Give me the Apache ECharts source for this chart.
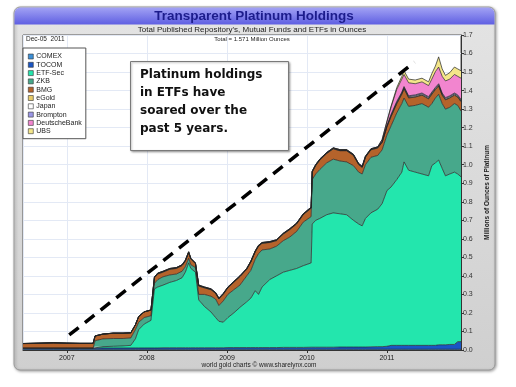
<!DOCTYPE html>
<html>
<head>
<meta charset="utf-8">
<script src="https://cdn.jsdelivr.net/npm/echarts@6/dist/echarts.min.js"></script>
<style>
html,body{margin:0;padding:0;background:#fff;}
#c{width:516px;height:387px;}
</style>
</head>
<body>
<div id="c"></div>
<script>
const dates = ['2006-06-15','2006-09-01','2006-11-01','2007-01-01','2007-03-01','2007-05-01','2007-05-10','2007-06-15','2007-08-01','2007-09-15',
'2007-10-20','2007-11-10','2007-11-25','2007-12-20','2008-01-20','2008-02-05','2008-02-20','2008-03-15','2008-04-15','2008-05-15',
'2008-06-10','2008-06-25','2008-07-10','2008-07-20','2008-08-10','2008-08-25','2008-09-20','2008-10-20','2008-11-10','2008-11-25',
'2008-12-15','2009-01-05','2009-02-01','2009-03-01','2009-04-01','2009-04-20','2009-05-10','2009-05-25','2009-06-10','2009-07-15',
'2009-08-15','2009-09-15','2009-10-15','2009-11-15','2009-12-15','2010-01-20','2010-01-25','2010-02-10','2010-03-01','2010-04-01',
'2010-05-01','2010-06-01','2010-07-01','2010-08-01','2010-08-25','2010-09-10','2010-09-25','2010-10-20','2010-11-20','2010-12-10',
'2011-01-01','2011-01-20','2011-02-15','2011-03-10','2011-03-20','2011-04-10','2011-05-10','2011-06-10','2011-07-10','2011-07-25',
'2011-08-10','2011-08-25','2011-09-10','2011-09-25','2011-10-15','2011-11-05','2011-11-20','2011-12-05'];

const comex = [.004,.004,.004,.004,.004,.004,.004,.004,.004,.004,.004,.004,.004,.004,.004,.004,.004,.004,.004,.004,
.004,.004,.004,.004,.004,.004,.004,.004,.004,.004,.004,.004,.004,.004,.004,.004,.004,.004,.004,.004,
.004,.004,.004,.004,.004,.004,.004,.004,.004,.004,.004,.004,.004,.004,.004,.004,.004,.004,.004,.004,
.004,.004,.004,.004,.004,.004,.004,.004,.004,.004,.004,.004,.004,.004,.004,.004,.004,.004];
const tocom = [.006,.006,.006,.006,.006,.006,.007,.007,.007,.007,.007,.007,.007,.007,.007,.007,.007,.008,.008,.008,
.008,.008,.008,.008,.008,.008,.008,.008,.008,.008,.008,.009,.009,.009,.009,.009,.009,.009,.009,.009,
.009,.010,.010,.010,.010,.011,.011,.011,.011,.011,.011,.012,.012,.012,.012,.012,.012,.013,.014,.014,
.016,.021,.021,.021,.021,.021,.021,.021,.021,.021,.021,.024,.024,.024,.026,.026,.041,.041];
const etfSec = [0,0,0,0,0,0,.007,.007,.009,.011,.014,.049,.099,.129,.149,.319,.329,.338,.353,.363,
.378,.408,.458,.428,.408,.258,.223,.193,.163,.143,.138,.162,.187,.217,.247,.267,.307,.287,.327,.367,
.387,.406,.416,.426,.441,.455,.665,.685,.695,.715,.725,.719,.714,.684,.664,.654,.694,.723,.742,.772,
.840,.855,.895,.935,.990,.945,.935,.925,.915,.970,.985,.997,.952,.912,.920,.930,.905,.890];
const zkb = [0,0,0,0,0,0,.032,.042,.042,.040,.040,.050,.040,.035,.025,.030,.040,.045,.040,.035,
.035,.030,.025,.020,.025,.030,.065,.085,.100,.085,.115,.125,.125,.120,.140,.150,.170,.220,.200,.165,
.160,.170,.180,.200,.235,.250,.240,.250,.265,.280,.290,.285,.285,.295,.280,.280,.290,.300,.290,.290,
.300,.330,.360,.370,.345,.345,.360,.380,.370,.335,.350,.355,.350,.360,.360,.370,.370,.355];
const bmg = [.024,.026,.028,.026,.025,.025,.025,.025,.028,.028,.027,.025,.030,.030,.030,.030,.030,.025,.030,.030,
.030,.030,.030,.030,.020,.045,.035,.035,.030,.035,.035,.035,.040,.045,.035,.045,.040,.040,.035,.035,
.030,.035,.040,.040,.040,.045,.040,.045,.050,.050,.055,.055,.060,.055,.040,.035,.040,.040,.040,.040,
.045,.050,.050,.050,.050,.045,.045,.045,.045,.050,.045,.045,.045,.050,.050,.045,.045,.050];
const eGold = [.001,.001,.001,.001,.001,.001,.001,.001,.001,.001,.001,.001,.001,.001,.001,.002,.002,.002,.002,.002,
.002,.002,.002,.002,.002,.002,.002,.002,.002,.002,.002,.002,.002,.002,.002,.002,.002,.002,.002,.002,
.002,.002,.002,.002,.002,.002,.002,.002,.002,.002,.002,.002,.002,.002,.002,.002,.002,.002,.002,.002,
.002,.002,.002,.002,.002,.002,.002,.002,.002,.002,.002,.002,.002,.002,.002,.002,.002,.002];
const japan = [0,0,0,0,0,0,0,0,0,0,0,0,0,0,0,0,0,0,0,0,
0,0,0,0,0,0,0,0,0,0,0,0,0,0,0,0,0,0,0,0,
0,0,0,0,0,0,0,0,0,0,0,0,0,0,0,0,0,0,0,0,
0,.005,.005,.005,.005,.005,.005,.005,.005,.005,.005,.005,.005,.005,.005,.005,.005,.005];
const brompton = [0,0,0,0,0,0,0,0,0,0,0,0,0,0,0,.003,.003,.003,.003,.003,
.003,.003,.003,.003,.003,.003,.003,.003,.003,.003,.003,.003,.003,.003,.003,.003,.003,.003,.003,.003,
.003,.003,.003,.003,.003,.004,.004,.004,.004,.004,.004,.004,.004,.004,.004,.004,.004,.004,.004,.004,
.004,.005,.005,.005,.005,.005,.005,.005,.005,.005,.005,.005,.005,.005,.005,.005,.005,.005];
const deutscheBank = [0,0,0,0,0,0,0,0,0,0,0,0,0,0,0,0,0,0,0,0,
0,0,0,0,0,0,0,0,0,0,0,0,0,0,0,0,0,0,0,0,
0,0,0,0,0,0,0,0,0,0,0,0,0,0,0,0,0,0,0,.010,
.020,.040,.065,.070,.065,.070,.060,.060,.060,.070,.085,.090,.090,.090,.090,.100,.100,.115];
const ubs = [0,0,0,0,0,0,0,0,0,0,0,0,0,0,0,0,0,0,0,0,
0,0,0,0,0,0,0,0,0,0,0,0,0,0,0,0,0,0,0,0,
0,0,0,0,0,0,0,0,0,0,0,0,0,0,0,0,0,0,0,0,
.005,.005,.010,.015,.020,.020,.020,.020,.020,.030,.030,.055,.040,.030,.035,.040,.040,.040];

const seriesNames = ['COMEX','TOCOM','ETF-Sec','ZKB','BMG','eGold','Japan','Brompton','DeutscheBank','UBS'];
const seriesValues = [comex,tocom,etfSec,zkb,bmg,eGold,japan,brompton,deutscheBank,ubs];
const seriesColors = ['#3d8fd6','#1a56c4','#23e6ad','#47a88b','#b5632b','#e8cc6a','#ffffff','#9a96e6','#f285cf','#f4e68a'];
const yTicks = {min:0, max:1.7, interval:0.1};
const xRange = {min:'2006-06-15', max:'2011-12-05'};
const arrowFrom = ['2007-01-12', 0.081];
const arrowTo = ['2011-05-07', 1.554];

const chart = echarts.init(document.getElementById('c'), null, {renderer:'canvas'});

const series = seriesNames.map((name, i) => {
  const s = {
    name: name,
    type: 'line',
    stack: 'total',
    showSymbol: false,
    symbol: 'none',
    data: dates.map((d, j) => [d, seriesValues[i][j]]),
    lineStyle: {width: 0.7, color: '#222'},
    itemStyle: {color: seriesColors[i], borderColor:'#333', borderWidth:0.6},
    areaStyle: {color: seriesColors[i], opacity: 1},
    emphasis: {disabled: true},
    z: 2
  };
  if (i === seriesNames.length - 1) {
    s.markLine = {
      silent: true,
      symbol: ['none', 'arrow'],
      symbolSize: [0, 14],
      label: {show: false},
      lineStyle: {color: '#000', width: 3.5, type: [12, 8], cap: 'butt'},
      data: [[{coord: arrowFrom}, {coord: arrowTo}]],
      z: 10
    };
  }
  return s;
});

const option = {
  animation: false,
  backgroundColor: '#ffffff',
  textStyle: {fontFamily: 'Liberation Sans, Arial, sans-serif'},
  graphic: [
    {type:'rect', z:-10, shape:{x:14, y:7, width:481, height:363, r:6},
     style:{fill:{type:'linear',x:0,y:0,x2:0,y2:1,colorStops:[{offset:0,color:'#e4e4e4'},{offset:1,color:'#cfcfcf'}]},
            stroke:'#9a9a9a', lineWidth:1, shadowBlur:3, shadowColor:'rgba(0,0,0,0.35)', shadowOffsetX:1, shadowOffsetY:1}},
    {type:'rect', z:-9, shape:{x:14.5, y:7.5, width:480, height:17, r:[6,6,0,0]},
     style:{fill:{type:'linear',x:0,y:0,x2:0,y2:1,colorStops:[{offset:0,color:'#a2a2f4'},{offset:1,color:'#5f5fe2'}]}}},
    {type:'text', z:5, style:{text:'Transparent Platinum Holdings', x:254, y:16, textAlign:'center', textVerticalAlign:'middle',
      font:'bold 13.5px "Liberation Sans", Arial, sans-serif', fill:'#1c1c8c'}},
    {type:'text', z:5, style:{text:"Total Published Repository's, Mutual Funds and ETFs in Ounces", x:252, y:29.5, textAlign:'center', textVerticalAlign:'middle',
      font:'8px "Liberation Sans", Arial, sans-serif', fill:'#222'}},
    {type:'text', z:20, style:{text:'Dec-05  2011', x:26, y:39.5, textAlign:'left', textVerticalAlign:'middle',
      font:'6.5px "Liberation Sans", Arial, sans-serif', fill:'#222'}},
    {type:'text', z:20, style:{text:'Total = 1.571 Million Ounces', x:252, y:39.5, textAlign:'center', textVerticalAlign:'middle',
      font:'6px "Liberation Sans", Arial, sans-serif', fill:'#222'}},
    {type:'text', z:5, style:{text:'world gold charts \u00a9 www.sharelynx.com', x:259, y:365, textAlign:'center', textVerticalAlign:'middle',
      font:'6.5px "Liberation Sans", Arial, sans-serif', fill:'#222'}},
    {type:'rect', z:30, shape:{x:130.5, y:61.5, width:158, height:89},
     style:{fill:'#ffffff', stroke:'#7a7a7a', lineWidth:1, shadowBlur:2, shadowColor:'rgba(0,0,0,0.3)', shadowOffsetX:1, shadowOffsetY:1}},
    {type:'text', z:31, style:{text:'Platinum holdings', x:140, y:74.5, textVerticalAlign:'middle', font:'bold 12px "DejaVu Sans", Verdana, sans-serif', fill:'#111'}},
    {type:'text', z:31, style:{text:'in ETFs have', x:140, y:92.5, textVerticalAlign:'middle', font:'bold 12px "DejaVu Sans", Verdana, sans-serif', fill:'#111'}},
    {type:'text', z:31, style:{text:'soared over the', x:140, y:110.5, textVerticalAlign:'middle', font:'bold 12px "DejaVu Sans", Verdana, sans-serif', fill:'#111'}},
    {type:'text', z:31, style:{text:'past 5 years.', x:140, y:128.5, textVerticalAlign:'middle', font:'bold 12px "DejaVu Sans", Verdana, sans-serif', fill:'#111'}}
  ],
  legend: {
    orient: 'vertical',
    left: 23, top: 48,
    padding: [5, 4, 4, 5],
    backgroundColor: '#ffffff',
    borderColor: '#555',
    borderWidth: 1,
    itemWidth: 5, itemHeight: 5,
    itemGap: 1.3,
    icon: 'rect',
    itemStyle: {borderColor: '#333', borderWidth: 0.6},
    textStyle: {fontSize: 7, color: '#222', padding: [0,0,0,-2], lineHeight: 7},
    data: seriesNames,
    selectedMode: false,
    z: 20
  },
  grid: {
    left: 23, top: 35, width: 438, height: 315,
    show: true, backgroundColor: '#ffffff', borderColor: '#555', borderWidth: 1
  },
  xAxis: {
    type: 'time',
    min: xRange.min, max: xRange.max,
    minInterval: 365 * 24 * 3600 * 1000,
    maxInterval: 366 * 24 * 3600 * 1000,
    axisLine: {show: true, lineStyle: {color: '#333', width: 1}},
    axisTick: {show: true, length: 3, lineStyle: {color: '#333'}},
    axisLabel: {formatter: '{yyyy}', fontSize: 7, color: '#222', margin: 5, showMinLabel: false, showMaxLabel: false},
    splitLine: {show: true, lineStyle: {color: '#e3e9f5', width: 1}}
  },
  yAxis: {
    type: 'value',
    position: 'right',
    min: yTicks.min, max: yTicks.max, interval: yTicks.interval,
    name: 'Millions of Ounces of Platinum',
    nameLocation: 'middle',
    nameRotate: 90,
    nameGap: 19,
    nameTextStyle: {fontSize: 6.5, fontWeight: 'bold', color: '#222'},
    axisLine: {show: true, lineStyle: {color: '#333', width: 1}},
    axisTick: {show: true, length: 3, lineStyle: {color: '#333'}},
    axisLabel: {fontSize: 7, color: '#333', margin: 2, formatter: v => v.toFixed(1)},
    splitLine: {show: true, lineStyle: {color: '#e3e9f5', width: 1}}
  },
  series: series
};
chart.setOption(option);
</script>
</body>
</html>
